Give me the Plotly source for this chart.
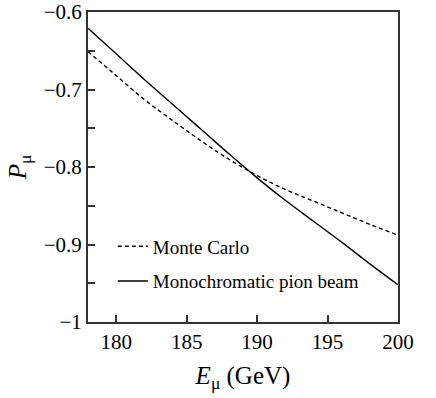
import plotly.graph_objects as go

# muon energy (GeV)
energy = [178, 180, 182, 184, 186, 188, 190, 192, 194, 196, 198, 200]
# muon polarisation
p_monte_carlo = [-0.651, -0.682, -0.713, -0.740, -0.766, -0.790, -0.811,
                 -0.829, -0.844, -0.859, -0.874, -0.888]
p_mono_beam = [-0.621, -0.654, -0.687, -0.719, -0.751, -0.783, -0.814,
               -0.843, -0.870, -0.897, -0.925, -0.952]

y_ticks = [-1, -0.9, -0.8, -0.7, -0.6]
y_labels = ["\u22121", "\u22120.9", "\u22120.8", "\u22120.7", "\u22120.6"]
y_minor = [-0.95, -0.85, -0.75, -0.65]
x_ticks = [180, 185, 190, 195, 200]

serif = "Liberation Serif, Times New Roman, serif"

fig = go.Figure()
fig.add_trace(go.Scatter(x=energy, y=p_monte_carlo, mode="lines", name="Monte Carlo",
                         legendgroup="mc",
                         line=dict(color="black", width=1.4, dash="4px,3px", shape="spline")))
fig.add_trace(go.Scatter(x=energy, y=p_mono_beam, mode="lines", name="Monochromatic pion beam",
                         legendgroup="mono",
                         line=dict(color="black", width=1.4, shape="spline")))

fig.update_layout(
    width=436, height=398,
    margin=dict(l=88, r=38, t=12, b=76),
    plot_bgcolor="white", paper_bgcolor="white",
    font=dict(family=serif, size=21, color="black"),
    legend=dict(x=0.08, y=0.305, xanchor="left", yanchor="top",
                bgcolor="rgba(0,0,0,0)", font=dict(size=19),
                tracegroupgap=7, itemwidth=30),
    showlegend=True,
)
fig.update_xaxes(
    range=[178, 200], tickvals=x_ticks, ticks="inside", ticklen=7,
    tickwidth=1.5, tickcolor="#333", showline=True, linewidth=2,
    linecolor="#333", mirror=True, showgrid=False, zeroline=False,
    automargin=False, ticklabeloverflow="allow",
    title=dict(text="<i>E</i><sub>μ</sub> (GeV)", font=dict(size=25), standoff=13),
)
fig.update_yaxes(
    range=[-1, -0.6], tickvals=y_ticks, ticktext=y_labels, ticks="inside",
    ticklen=7, tickwidth=1.5, tickcolor="#333", showline=True, linewidth=2,
    linecolor="#333", mirror=True, showgrid=False, zeroline=False,
    automargin=False, ticklabeloverflow="allow",
    minor=dict(tickvals=y_minor, ticks="inside", ticklen=7, tickwidth=1.5, tickcolor="#333"),
    title=dict(text="<i>P</i><sub>μ</sub>", font=dict(size=25), standoff=10),
)

# drop the default 8px page margin so the figure fills the window exactly
fig.write_html("out.html", config={"displayModeBar": False},
               post_script="document.body.style.margin = '0';")
